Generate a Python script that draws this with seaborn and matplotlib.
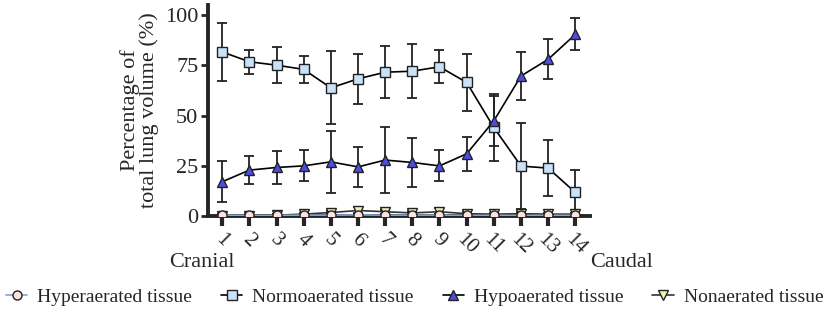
import numpy as np
import pandas as pd
import matplotlib.pyplot as plt
import matplotlib.transforms as mtransforms
import seaborn as sns

regions = list(range(1, 15))

hyper_mean = [0.5, 0.4, 0.4, 0.5, 0.5, 0.6, 0.5, 0.5, 0.5, 0.4, 0.4, 0.4, 0.4, 0.4]
hyper_sd = [0.8, 0.6, 0.6, 0.8, 0.8, 0.9, 0.8, 0.8, 0.8, 0.6, 0.6, 0.6, 0.6, 0.6]

normo_mean = [81.7, 76.8, 75.1, 73.0, 63.8, 68.3, 71.6, 72.1, 74.3, 66.5, 44.1, 24.9, 23.9, 11.8]
normo_sd = [14.3, 6.0, 9.0, 6.7, 18.2, 12.3, 12.8, 13.5, 8.3, 14.2, 16.5, 21.2, 14.0, 11.0]

hypo_mean = [17.1, 22.9, 24.2, 25.0, 27.0, 24.5, 27.9, 26.7, 25.0, 31.0, 47.4, 69.7, 78.0, 90.4]
hypo_sd = [10.3, 7.0, 8.3, 7.7, 15.5, 10.0, 16.3, 12.2, 7.7, 8.5, 12.5, 12.0, 10.0, 8.0]

non_mean = [0.3, 0.3, 0.5, 1.0, 1.8, 2.8, 2.2, 1.6, 2.2, 1.2, 1.0, 1.2, 1.0, 1.0]
non_sd = [0.5, 0.5, 0.6, 0.8, 1.0, 1.8, 1.0, 0.9, 1.8, 0.8, 0.7, 0.8, 0.7, 0.7]

labels = ['Hyperaerated tissue', 'Normoaerated tissue', 'Hypoaerated tissue', 'Nonaerated tissue']

df = pd.DataFrame({
    'region': regions * 4,
    'value': hyper_mean + normo_mean + hypo_mean + non_mean,
    'sd': hyper_sd + normo_sd + hypo_sd + non_sd,
    'tissue': np.repeat(labels, len(regions)),
})

sns.set_style('ticks')
plt.rcParams['font.family'] = ['Liberation Serif', 'DejaVu Serif']

fig = plt.figure(figsize=(8.29, 3.16), dpi=100)
ax = fig.add_axes([0.251, 0.316, 0.461, 0.668])

# line colour, marker, face colour, marker size
styles = {
    'Normoaerated tissue': ('black', 's', '#c9e2f7', 6.5),
    'Hypoaerated tissue': ('black', '^', '#4d4de6', 7),
    'Nonaerated tissue': ('#333333', 'v', '#f3eeb8', 7),
    'Hyperaerated tissue': ('#7aa7d8', 'o', '#fbe2e2', 6.5),
}

handles = {}
for name, (lc, mk, fc, ms) in styles.items():
    sub = df[df['tissue'] == name]
    ax.errorbar(sub['region'], sub['value'], yerr=sub['sd'], fmt='none',
                ecolor='#222222', elinewidth=1.3, capsize=3.5, capthick=1.3, zorder=2)
    sns.lineplot(data=sub, x='region', y='value', ax=ax, color=lc, lw=1.2,
                 marker=mk, markersize=ms, markerfacecolor=fc,
                 markeredgecolor='#222222', markeredgewidth=1.0,
                 label=name, legend=False, zorder=3)
    handles[name] = ax.lines[-1]

ax.set_xlim(0.48, 14.55)
ax.set_ylim(0, 105)
ax.set_yticks([0, 25, 50, 75, 100])
ax.set_xticks(regions)
ax.set_xticklabels([str(r) for r in regions], rotation=-45, ha='center', fontsize=15)
ax.tick_params(axis='y', labelsize=16, width=2, length=5, pad=2)
ax.tick_params(axis='x', width=3, length=7, pad=3)
ax.set_xlabel('')
ax.set_ylabel('Percentage of\ntotal lung volume (%)', fontsize=16, labelpad=4,
              linespacing=1.0)
for s in ['left', 'bottom']:
    ax.spines[s].set_linewidth(2.8)
sns.despine(ax=ax)

trans = mtransforms.blended_transform_factory(ax.transData, ax.transAxes)
ax.text(0.26, -0.22, 'Cranial', transform=trans, ha='center', va='center', fontsize=16)
ax.text(15.7, -0.22, 'Caudal', transform=trans, ha='center', va='center', fontsize=16)

fig.legend([handles[l] for l in labels], labels, loc='center', ncol=4,
           bbox_to_anchor=(0.5, 0.06), frameon=False, fontsize=14,
           handlelength=1.1, handletextpad=0.5, columnspacing=1.5)

fig.savefig('out.png', dpi=100)
